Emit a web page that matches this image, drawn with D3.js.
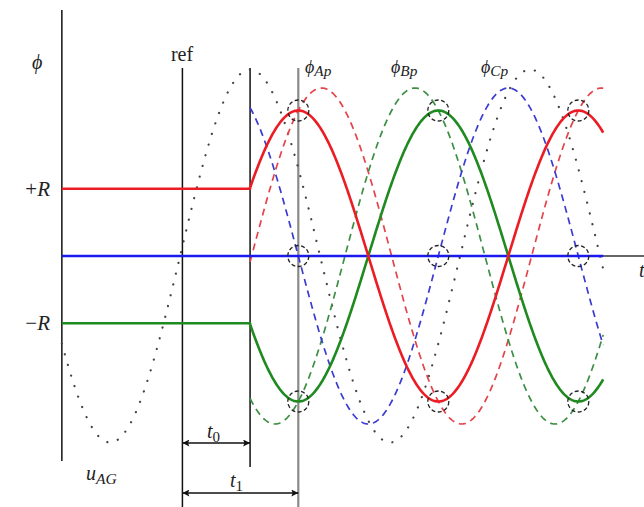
<!DOCTYPE html>
<html><head><meta charset="utf-8">
<script src="https://cdn.jsdelivr.net/npm/d3@7"></script>
<style>
html,body{margin:0;padding:0;background:#fff;}
svg{display:block;}
text{font-family:"Liberation Serif","DejaVu Serif",serif;fill:#222;}
</style></head>
<body>
<svg id="c" width="644" height="507"></svg>
<script>
// ---- data (time in electrical degrees, 0 = t1 instant; values in per-unit of prospective flux peak)
const phaseNames = ["A", "B", "C"];
const prospectivePeak = [30, 150, 270];      // time of peak of dashed (prospective) flux, degrees
const prospectiveAmp = [1, 1, 1];
const dynamicAmp = [0.866, 0, -0.866];       // solid flux after energisation
const residualFlux = [0.40, 0, -0.40];       // +R, 0, -R
const voltageAmp = 1.11;                     // dotted u_AG
const voltagePeak = -62;
const markerNames = ["ref", "t0", "t1"];
const markerTimes = [-149, -62, 0];
const circleTimes = [0, 180, 360];
const timeStart = -304, timeEnd = 392;
const rLabels = ["+R", "\u2212R"];
const rValues = [0.40, -0.40];

// ---- scales
const svg = d3.select("#c");
const x = d3.scaleLinear().domain([0, 360]).range([298.3, 578.3]);
const y = d3.scaleLinear().domain([-1, 1]).range([424, 88]);
const rad = d => d * Math.PI / 180;
const line = d3.line().x(d => x(d[0])).y(d => y(d[1])).curve(d3.curveLinear);

const colA = "#ec1c24", colB = "#1f8a1f", colC = "#1a1aef";
const phaseSolid = [colA, colC, colB]; // solid: A red, (zero) blue, -A green
const phaseDash = ["#e4434a", "#3b8f43", "#3b3bd2"];

const defs = svg.append("defs");
defs.append("marker").attr("id", "arr").attr("viewBox", "0 0 10 10").attr("refX", 10).attr("refY", 5)
  .attr("markerWidth", 10).attr("markerHeight", 7).attr("markerUnits", "userSpaceOnUse").attr("orient", "auto-start-reverse")
  .append("path").attr("d", "M0,0 L10,5 L0,10 L2,5 z").attr("fill", "#111");

// vertical axis
svg.append("line").attr("x1", x(timeStart)).attr("x2", x(timeStart)).attr("y1", 10).attr("y2", 461)
  .attr("stroke", "#111").attr("stroke-width", 1.5);
// horizontal time axis
svg.append("line").attr("x1", x(timeStart)).attr("x2", 644).attr("y1", y(0)).attr("y2", y(0))
  .attr("stroke", "#333").attr("stroke-width", 1.5);

// marker lines
const markerBottom = [507, 467, 507];
markerTimes.forEach((t, i) => {
  svg.append("line").attr("x1", x(t)).attr("x2", x(t)).attr("y1", 68).attr("y2", markerBottom[i])
    .attr("stroke", i === 2 ? "#8a8a8a" : "#111").attr("stroke-width", i === 2 ? 2.2 : 1.5);
});

// dotted voltage
const vPts = d3.range(timeStart, timeEnd + 0.5, 1).map(t => [t, voltageAmp * Math.cos(rad(t - voltagePeak))]);
svg.append("path").attr("d", line(vPts)).attr("fill", "none").attr("stroke", "#444")
  .attr("stroke-width", 2.2).attr("stroke-linecap", "round").attr("stroke-dasharray", "0.1,11");

// dashed prospective fluxes
phaseNames.forEach((p, i) => {
  const pts = d3.range(markerTimes[1], timeEnd + 0.5, 1).map(t => [t, prospectiveAmp[i] * Math.cos(rad(t - prospectivePeak[i]))]);
  svg.append("path").attr("d", line(pts)).attr("fill", "none").attr("stroke", phaseDash[i])
    .attr("stroke-width", 1.7).attr("stroke-dasharray", "7,5");
});

// solid dynamic fluxes
const solidOrder = [1, 2, 0];
solidOrder.forEach(i => {
  const pts = [[timeStart, residualFlux[i]], [markerTimes[1], residualFlux[i]]].concat(
    d3.range(markerTimes[1], timeEnd + 0.5, 1).map(t => [t, dynamicAmp[i] * Math.cos(rad(t))]));
  svg.append("path").attr("d", line(pts)).attr("fill", "none").attr("stroke", phaseSolid[i])
    .attr("stroke-width", 2.6).attr("stroke-linejoin", "round");
});

// circles
circleTimes.forEach(t => {
  dynamicAmp.forEach(a => {
    svg.append("circle").attr("cx", x(t)).attr("cy", y(a * Math.cos(rad(t)))).attr("r", 10.5)
      .attr("fill", "none").attr("stroke", "#222").attr("stroke-width", 1.3).attr("stroke-dasharray", "4,2.5");
  });
});

// interval arrows
svg.append("line").attr("x1", x(markerTimes[0])).attr("x2", x(markerTimes[1])).attr("y1", 443).attr("y2", 443)
  .attr("stroke", "#111").attr("stroke-width", 1.5).attr("marker-start", "url(#arr)").attr("marker-end", "url(#arr)");
svg.append("line").attr("x1", x(markerTimes[0])).attr("x2", x(markerTimes[2])).attr("y1", 493).attr("y2", 493)
  .attr("stroke", "#111").attr("stroke-width", 1.5).attr("marker-start", "url(#arr)").attr("marker-end", "url(#arr)");

// text helpers
function mathLabel(xx, yy, main, sub, opts = {}) {
  const size = opts.size || 20;
  const t = svg.append("text").attr("x", xx).attr("y", yy).attr("font-size", size)
    .attr("text-anchor", opts.anchor || "start");
  t.append("tspan").attr("font-style", "italic").text(main);
  if (sub) t.append("tspan").attr("font-size", size * (opts.subScale || 0.75)).attr("dy", opts.subDy || 4)
    .attr("font-style", opts.subUpright ? "normal" : "italic").text(sub);
  return t;
}
mathLabel(32, 69, "\u03d5", null, { size: 20 });
svg.append("text").attr("x", 182).attr("y", 61).attr("text-anchor", "middle").attr("font-size", 20).text(markerNames[0]);
rLabels.forEach((l, i) => {
  const t = svg.append("text").attr("x", 50).attr("y", y(rValues[i]) + 7).attr("text-anchor", "end").attr("font-size", 21);
  t.append("tspan").text(l[0]);
  t.append("tspan").attr("font-style", "italic").text(l.slice(1));
});
const topLabelX = [305, 391, 481];
phaseNames.forEach((p, i) => mathLabel(topLabelX[i], 73, "\u03d5", p + "p", { size: 18, subScale: 0.85, subDy: 3 }));
mathLabel(207, 438, "t", "0", { subUpright: true, size: 20, subScale: 0.75 });
mathLabel(230, 487, "t", "1", { subUpright: true, size: 20, subScale: 0.75 });
mathLabel(86, 480, "u", "AG", { size: 20, subScale: 0.78 });
mathLabel(639, 277, "t", null, { size: 20 });
</script>
</body></html>
